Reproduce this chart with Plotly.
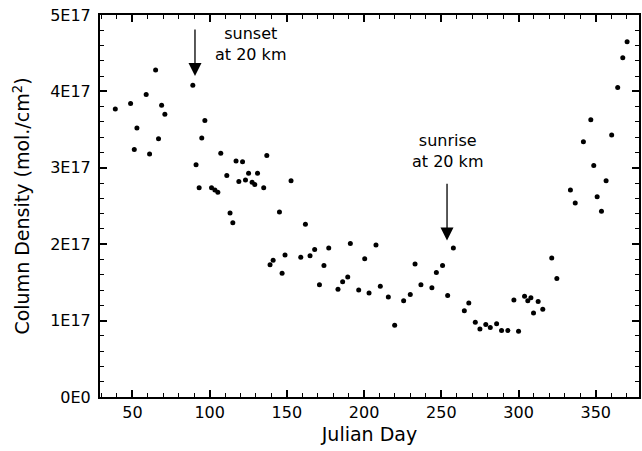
import plotly.graph_objects as go

# Julian day of each measurement
days = [38.9, 48.8, 51.2, 52.9, 58.9, 61.1, 65.0, 66.9, 68.9, 71.0,
        89.1, 91.2, 93.2, 94.9, 96.9, 101.2, 103.4, 105.3, 107.2, 111.1,
        113.2, 115.0, 117.1, 118.9, 121.3, 123.2, 125.2, 127.5, 129.2, 131.0,
        135.0, 137.0, 139.1, 141.1, 145.2, 146.9, 148.8, 152.7, 159.0, 162.0,
        165.0, 168.0, 171.1, 174.0, 177.1, 183.1, 186.1, 189.4, 191.1, 196.5,
        200.4, 203.2, 207.7, 210.5, 215.7, 219.8, 225.6, 229.9, 233.0, 236.8,
        243.9, 246.8, 250.8, 254.1, 257.8, 264.9, 267.8, 272.0, 275.0, 278.8,
        281.7, 285.8, 289.0, 293.1, 297.0, 300.0, 303.9, 306.0, 308.0, 309.7,
        312.7, 315.7, 321.5, 324.8, 333.6, 336.7, 342.0, 346.8, 348.7, 350.9,
        353.7, 356.7, 360.3, 364.2, 367.5, 370.3]

# Column density in units of 1E17 molecules / cm^2
density_e17 = [3.77, 3.84, 3.24, 3.52, 3.96, 3.18, 4.28, 3.38, 3.82, 3.70,
               4.08, 3.04, 2.74, 3.39, 3.62, 2.74, 2.71, 2.68, 3.19, 2.90,
               2.41, 2.28, 3.09, 2.82, 3.08, 2.84, 2.93, 2.81, 2.78, 2.93,
               2.74, 3.16, 1.73, 1.79, 2.42, 1.62, 1.86, 2.83, 1.83, 2.26,
               1.85, 1.93, 1.47, 1.72, 1.95, 1.41, 1.51, 1.57, 2.01, 1.40,
               1.81, 1.36, 1.99, 1.45, 1.31, 0.94, 1.26, 1.34, 1.74, 1.47,
               1.43, 1.63, 1.72, 1.33, 1.95, 1.13, 1.23, 0.98, 0.89, 0.95,
               0.91, 0.96, 0.87, 0.87, 1.27, 0.86, 1.32, 1.26, 1.30, 1.10,
               1.25, 1.15, 1.82, 1.55, 2.71, 2.54, 3.34, 3.63, 3.03, 2.62,
               2.43, 2.83, 3.43, 4.05, 4.44, 4.65]

x_ticks = [50, 100, 150, 200, 250, 300, 350]
y_tick_vals_e17 = [0, 1, 2, 3, 4, 5]
y_tick_text = ["0E0", "1E17", "2E17", "3E17", "4E17", "5E17"]

E17 = 1e17
density = [v * E17 for v in density_e17]

FONT = "DejaVu Sans"

fig = go.Figure()
fig.add_trace(go.Scatter(
    x=days, y=density, mode="markers",
    marker=dict(color="black", size=5),
    showlegend=False, hoverinfo="skip",
))

axis_common = dict(
    showgrid=False, zeroline=False, showline=True, linecolor="black",
    linewidth=2, mirror="ticks", ticks="inside", ticklen=7, tickwidth=1.5,
    tickcolor="black", tickfont=dict(family=FONT, size=16, color="black"),
)

fig.update_xaxes(
    range=[29, 378], tickvals=x_ticks,
    minor=dict(dtick=10, tick0=0, ticks="inside", ticklen=4, tickwidth=1, tickcolor="black"),
    title=dict(text="Julian Day", font=dict(family=FONT, size=19, color="black"), standoff=6),
    **axis_common,
)
fig.update_yaxes(
    range=[0, 5 * E17], tickvals=[v * E17 for v in y_tick_vals_e17], ticktext=y_tick_text,
    minor=dict(dtick=0.2 * E17, tick0=0, ticks="inside", ticklen=4, tickwidth=1, tickcolor="black"),
    title=dict(text="Column Density (mol./cm<sup>2</sup>)", font=dict(family=FONT, size=19, color="black"), standoff=15),
    ticklabelstandoff=4,
    **axis_common,
)

# arrows
fig.add_annotation(x=90.5, y=4.2 * E17, ax=90.5, ay=4.83 * E17, axref="x", ayref="y",
                   text="", showarrow=True, arrowhead=2, arrowsize=2, arrowwidth=1.3,
                   arrowcolor="black", standoff=0)
fig.add_annotation(x=253.7, y=2.05 * E17, ax=253.7, ay=2.81 * E17, axref="x", ayref="y",
                   text="", showarrow=True, arrowhead=2, arrowsize=2, arrowwidth=1.3,
                   arrowcolor="black", standoff=0)
# labels
fig.add_annotation(x=126.2, y=4.62 * E17, text="sunset<br>at 20 km", showarrow=False,
                   font=dict(family=FONT, size=16, color="black"), align="center")
fig.add_annotation(x=254.2, y=3.22 * E17, text="sunrise<br>at 20 km", showarrow=False,
                   font=dict(family=FONT, size=16, color="black"), align="center")

fig.update_layout(
    width=642, height=451,
    margin=dict(l=100, r=3, t=15, b=54, autoexpand=False),
    plot_bgcolor="white", paper_bgcolor="white",
    font=dict(family=FONT, color="black"),
)

fig.write_html("out.html")
